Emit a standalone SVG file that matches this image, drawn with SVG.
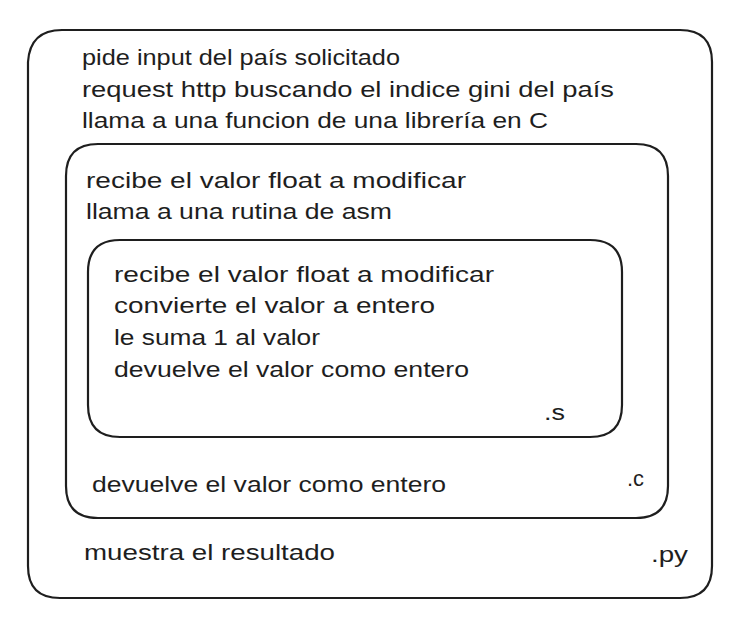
<svg xmlns="http://www.w3.org/2000/svg" width="750" height="632" viewBox="0 0 750 632">
<style>
.box{fill:none;stroke:#1e1e1e;stroke-width:2.2;stroke-linecap:round;stroke-linejoin:round}
.t{font-family:"Liberation Sans","DejaVu Sans",sans-serif;font-size:22px;fill:#1e1e1e}
</style>
<rect width="750" height="632" fill="#ffffff"/>
<g id="py">
<path class="box" d="M62 30 L680 30 Q712 30 712 62 L712 566 Q712 598 680 598 L60 598 Q28 598 28 566 L28 62 Q30 30 62 30 Z"/>
<text class="t" x="82" y="65" textLength="318" lengthAdjust="spacingAndGlyphs">pide input del país solicitado</text>
<text class="t" x="82" y="97" textLength="532" lengthAdjust="spacingAndGlyphs">request http buscando el indice gini del país</text>
<text class="t" x="82" y="128" textLength="466" lengthAdjust="spacingAndGlyphs">llama a una funcion de una librería en C</text>
<text class="t" x="84" y="560" textLength="251" lengthAdjust="spacingAndGlyphs">muestra el resultado</text>
<text class="t" x="651" y="562" textLength="37" lengthAdjust="spacingAndGlyphs">.py</text>
</g>
<g id="c">
<path class="box" d="M98 144 L636 144 Q668 144 668 176 L668 486 Q668 518 636 518 L98 518 Q66 518 66 486 L66 176 Q66 144 98 144 Z"/>
<text class="t" x="86" y="188" textLength="380" lengthAdjust="spacingAndGlyphs">recibe el valor float a modificar</text>
<text class="t" x="86" y="219" textLength="306" lengthAdjust="spacingAndGlyphs">llama a una rutina de asm</text>
<text class="t" x="92" y="492" textLength="354" lengthAdjust="spacingAndGlyphs">devuelve el valor como entero</text>
<text class="t" x="627" y="486" textLength="17" lengthAdjust="spacingAndGlyphs">.c</text>
</g>
<g id="s">
<path class="box" d="M120 240 L590 240 Q622 240 622 272 L622 405 Q622 437 590 437 L120 437 Q88 437 88 405 L88 272 Q88 240 120 240 Z"/>
<text class="t" x="114" y="282" textLength="380" lengthAdjust="spacingAndGlyphs">recibe el valor float a modificar</text>
<text class="t" x="114" y="313" textLength="321" lengthAdjust="spacingAndGlyphs">convierte el valor a entero</text>
<text class="t" x="114" y="345" textLength="206" lengthAdjust="spacingAndGlyphs">le suma 1 al valor</text>
<text class="t" x="114" y="377" textLength="355" lengthAdjust="spacingAndGlyphs">devuelve el valor como entero</text>
<text class="t" x="544" y="420" textLength="21" lengthAdjust="spacingAndGlyphs">.s</text>
</g>
<g id="connectors"/>
</svg>
